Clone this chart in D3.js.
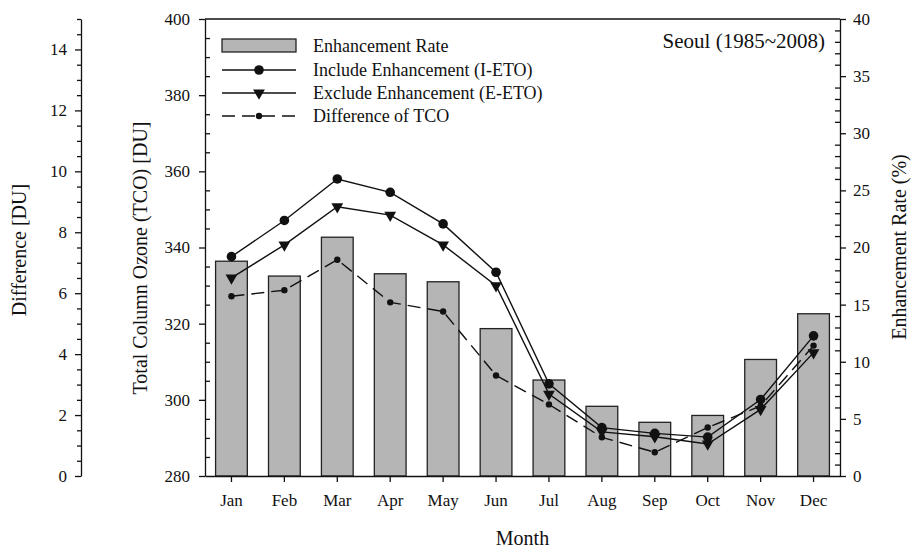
<!DOCTYPE html>
<html>
<head>
<meta charset="utf-8">
<script src="https://cdn.jsdelivr.net/npm/d3@7"></script>
<style>
  body { margin: 0; background: #fff; }
  svg text { font-family: "Liberation Serif", "Times New Roman", serif; fill: #111; }
</style>
</head>
<body>
<div id="chart"></div>
<script>
// data
const months = ["Jan", "Feb", "Mar", "Apr", "May", "Jun", "Jul", "Aug", "Sep", "Oct", "Nov", "Dec"];
const enhancementRate = [18.8, 17.5, 20.9, 17.7, 17.0, 12.9, 8.4, 6.1, 4.7, 5.3, 10.2, 14.2];
const includeETO = [337.6, 347.1, 358.0, 354.5, 346.2, 333.5, 304.2, 292.7, 291.2, 290.2, 300.1, 316.8];
const excludeETO = [332.0, 340.7, 350.7, 348.5, 340.7, 330.0, 301.5, 291.6, 290.3, 288.4, 297.5, 312.4];
const differenceTCO = [5.9, 6.1, 7.1, 5.7, 5.4, 3.3, 2.35, 1.27, 0.78, 1.59, 2.3, 4.28];

const tcoTicks = [280, 300, 320, 340, 360, 380, 400];
const rateTicks = [0, 5, 10, 15, 20, 25, 30, 35, 40];
const diffTicks = [0, 2, 4, 6, 8, 10, 12, 14];

const width = 911, height = 549;
const plotLeft = 205, plotRight = 840, plotTop = 19, plotBottom = 476;
const diffAxisX = 81;

const svg = d3.select("#chart").append("svg")
    .attr("width", width)
    .attr("height", height);

svg.append("rect").attr("width", width).attr("height", height).attr("fill", "#fff");

// scales
const x = d3.scaleBand().domain(months).range([plotLeft, plotRight]).paddingInner(0.4).paddingOuter(0.2);
const cx = m => x(m) + x.bandwidth() / 2;
const yTco = d3.scaleLinear().domain([280, 400]).range([plotBottom, plotTop]);
const yRate = d3.scaleLinear().domain([0, 40]).range([plotBottom, plotTop]);
const yDiff = d3.scaleLinear().domain([0, 15]).range([plotBottom, plotTop]);

const minorTcoTicks = d3.range(280, 401, 5).filter(v => v % 20 !== 0);
const minorRateTicks = d3.range(0, 41, 1).filter(v => v % 5 !== 0);
const minorDiffTicks = d3.range(0, 15.01, 0.5).filter(v => v % 2 !== 0);

function styleAxis(g, fontSize) {
    g.selectAll("path, line").attr("stroke", "#111").attr("stroke-width", 1.3);
    g.selectAll("text").attr("font-size", fontSize).attr("font-family", "Liberation Serif").attr("fill", "#111");
}

// bars
svg.append("g").selectAll("rect")
    .data(months)
    .join("rect")
    .attr("x", d => x(d))
    .attr("width", x.bandwidth())
    .attr("y", (d, i) => yRate(enhancementRate[i]))
    .attr("height", (d, i) => plotBottom - yRate(enhancementRate[i]))
    .attr("fill", "#b5b5b5")
    .attr("stroke", "#222")
    .attr("stroke-width", 1.3);

// frame top line
svg.append("line").attr("x1", plotLeft).attr("x2", plotRight).attr("y1", plotTop).attr("y2", plotTop)
    .attr("stroke", "#111").attr("stroke-width", 1.3);

// left TCO axis: majors outward, minors inward
svg.append("g").attr("transform", `translate(${plotLeft},0)`)
    .call(d3.axisLeft(yTco).tickValues(tcoTicks).tickSize(6).tickPadding(9).tickSizeOuter(0))
    .call(g => styleAxis(g, 17));
svg.append("g").attr("transform", `translate(${plotLeft},0)`)
    .call(d3.axisRight(yTco).tickValues(minorTcoTicks).tickSize(5).tickFormat(""))
    .call(g => g.select(".domain").remove())
    .call(g => styleAxis(g, 17));

// right rate axis
svg.append("g").attr("transform", `translate(${plotRight},0)`)
    .call(d3.axisRight(yRate).tickValues(rateTicks).tickSize(6).tickPadding(7).tickSizeOuter(0))
    .call(g => styleAxis(g, 17));
svg.append("g").attr("transform", `translate(${plotRight},0)`)
    .call(d3.axisLeft(yRate).tickValues(minorRateTicks).tickSize(5).tickFormat(""))
    .call(g => g.select(".domain").remove())
    .call(g => styleAxis(g, 17));

// bottom month axis
svg.append("g").attr("transform", `translate(0,${plotBottom})`)
    .call(d3.axisBottom(x).tickSize(6).tickPadding(12).tickSizeOuter(0))
    .call(g => styleAxis(g, 17));

// separate difference axis
svg.append("g").attr("transform", `translate(${diffAxisX},0)`)
    .call(d3.axisLeft(yDiff).tickValues(diffTicks).tickSize(6).tickPadding(8).tickSizeOuter(0))
    .call(g => styleAxis(g, 17));
svg.append("g").attr("transform", `translate(${diffAxisX},0)`)
    .call(d3.axisLeft(yDiff).tickValues(minorDiffTicks).tickSize(4).tickFormat(""))
    .call(g => g.select(".domain").remove())
    .call(g => styleAxis(g, 17));

// lines
const lineTco = d3.line().x((d, i) => cx(months[i])).y(d => yTco(d));
const lineDiff = d3.line().x((d, i) => cx(months[i])).y(d => yDiff(d));

svg.append("path").datum(differenceTCO).attr("d", lineDiff)
    .attr("fill", "none").attr("stroke", "#111").attr("stroke-width", 1.4)
    .attr("stroke-dasharray", "13,7");
svg.append("path").datum(excludeETO).attr("d", lineTco)
    .attr("fill", "none").attr("stroke", "#111").attr("stroke-width", 1.4);
svg.append("path").datum(includeETO).attr("d", lineTco)
    .attr("fill", "none").attr("stroke", "#111").attr("stroke-width", 1.4);

const triangle = d3.symbol().type(d3.symbolTriangle).size(60);

svg.append("g").selectAll("circle")
    .data(differenceTCO)
    .join("circle")
    .attr("cx", (d, i) => cx(months[i]))
    .attr("cy", d => yDiff(d))
    .attr("r", 3.2)
    .attr("fill", "#111");

svg.append("g").selectAll("path")
    .data(excludeETO)
    .join("path")
    .attr("d", triangle)
    .attr("transform", (d, i) => `translate(${cx(months[i])},${yTco(d)}) rotate(180)`)
    .attr("fill", "#111");

svg.append("g").selectAll("circle")
    .data(includeETO)
    .join("circle")
    .attr("cx", (d, i) => cx(months[i]))
    .attr("cy", d => yTco(d))
    .attr("r", 4.8)
    .attr("fill", "#111");

// axis titles
svg.append("text").attr("x", (plotLeft + plotRight) / 2).attr("y", 545)
    .attr("text-anchor", "middle").attr("font-size", 20).text("Month");
svg.append("text").attr("transform", "translate(147,258) rotate(-90)")
    .attr("text-anchor", "middle").attr("font-size", 20).text("Total Column Ozone (TCO) [DU]");
svg.append("text").attr("transform", "translate(26,250) rotate(-90)")
    .attr("text-anchor", "middle").attr("font-size", 20).text("Difference [DU]");
svg.append("text").attr("transform", "translate(906,247) rotate(-90)")
    .attr("text-anchor", "middle").attr("font-size", 20).text("Enhancement Rate (%)");

svg.append("text").attr("x", 825).attr("y", 48)
    .attr("text-anchor", "end").attr("font-size", 21).text("Seoul (1985~2008)");

// legend
const legendItems = ["Enhancement Rate", "Include Enhancement (I-ETO)", "Exclude Enhancement (E-ETO)", "Difference of TCO"];
const legendY = [46, 70, 93, 116];
const legend = svg.append("g");
legend.append("rect").attr("x", 222).attr("y", 39).attr("width", 74).attr("height", 13)
    .attr("fill", "#b5b5b5").attr("stroke", "#222").attr("stroke-width", 1.3);
[1, 2, 3].forEach(k => {
    legend.append("line").attr("x1", 222).attr("x2", 296).attr("y1", legendY[k]).attr("y2", legendY[k])
        .attr("stroke", "#111").attr("stroke-width", 1.4)
        .attr("stroke-dasharray", k === 3 ? "13,7" : null);
});
legend.append("circle").attr("cx", 259).attr("cy", legendY[1]).attr("r", 4.8).attr("fill", "#111");
legend.append("path").attr("d", triangle).attr("transform", `translate(259,${legendY[2]}) rotate(180)`).attr("fill", "#111");
legend.append("circle").attr("cx", 259).attr("cy", legendY[3]).attr("r", 3.2).attr("fill", "#111");
legend.selectAll("text.item")
    .data(legendItems)
    .join("text")
    .attr("class", "item")
    .attr("x", 313)
    .attr("y", (d, i) => legendY[i] + 6)
    .attr("font-size", 18)
    .text(d => d);
</script>
</body>
</html>
